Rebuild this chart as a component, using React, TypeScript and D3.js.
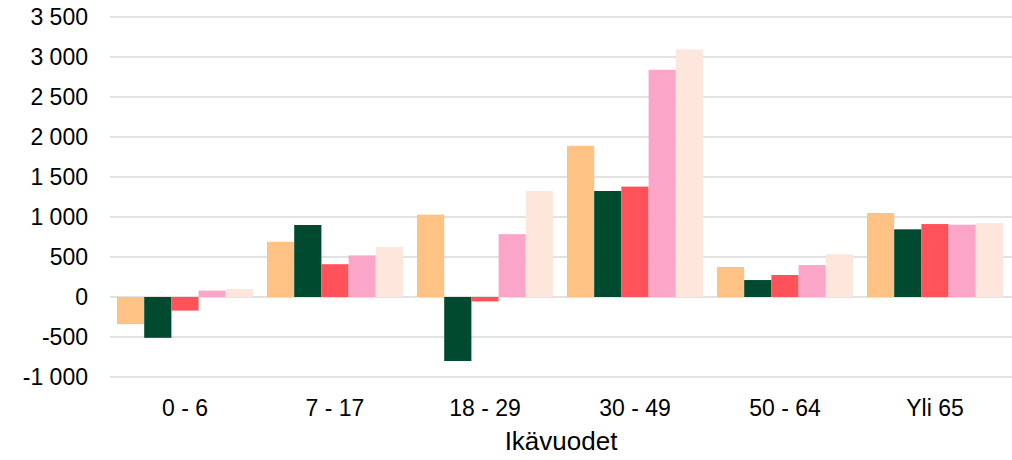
import React from "react";
import * as d3 from "d3";

const categories = ["0 - 6", "7 - 17", "18 - 29", "30 - 49", "50 - 64", "Yli 65"];
const series1 = [-340, 690, 1030, 1890, 375, 1050];
const series2 = [-510, 900, -800, 1325, 212, 846];
const series3 = [-170, 410, -55, 1380, 275, 912];
const series4 = [80, 520, 785, 2840, 400, 904];
const series5 = [100, 625, 1325, 3095, 533, 925];
const seriesColors = ["#FFC285", "#004B30", "#FF525A", "#FBA6C8", "#FDE6DC"];
const yTicks = [-1000, -500, 0, 500, 1000, 1500, 2000, 2500, 3000, 3500];
const xTitle = "Ikävuodet";

const allSeries = [series1, series2, series3, series4, series5];

const W = 1012;
const H = 460;
const left = 110;
const right = 1010;
const top = 17;
const bottom = 377;

export default function App() {
  const y = d3.scaleLinear().domain([-1000, 3500]).range([bottom, top]);
  const x0 = d3
    .scaleBand<string>()
    .domain(categories)
    .range([left, right])
    .paddingInner(14 / 150)
    .paddingOuter(7 / 150);
  const x1 = d3
    .scaleBand<number>()
    .domain(d3.range(allSeries.length))
    .range([0, x0.bandwidth()])
    .padding(0);
  const fmt = (v: number) =>
    d3.format(",")(v).replace(/,/g, "\u00a0").replace("\u2212", "-");
  const font = "'Liberation Sans', Arial, sans-serif";

  return (
    <svg
      width={W}
      height={H}
      style={{ position: "absolute", left: 0, top: 0, display: "block" }}
      fontFamily={font}
    >
      <rect width={W} height={H} fill="#fff" />
      {yTicks.map((t) => (
        <g key={t}>
          <line x1={left} x2={W} y1={y(t)} y2={y(t)} stroke="#d9d9d9" strokeWidth={1.5} />
          <text x={88} y={y(t)} dy="0.36em" textAnchor="end" fontSize={23} fill="#000">
            {fmt(t)}
          </text>
        </g>
      ))}
      {categories.map((c, i) => (
        <g key={c} transform={`translate(${x0(c)},0)`}>
          {allSeries.map((s, j) => {
            const v = s[i];
            const y0 = y(0);
            const yv = y(v);
            return (
              <rect
                key={j}
                x={x1(j)}
                width={x1.bandwidth()}
                y={Math.min(y0, yv)}
                height={Math.abs(yv - y0)}
                fill={seriesColors[j]}
              />
            );
          })}
        </g>
      ))}
      {categories.map((c) => (
        <text
          key={c}
          x={(x0(c) as number) + x0.bandwidth() / 2}
          y={416}
          textAnchor="middle"
          fontSize={23}
          fill="#000"
        >
          {c}
        </text>
      ))}
      <text x={561} y={450} textAnchor="middle" fontSize={26} fill="#000">
        {xTitle}
      </text>
    </svg>
  );
}
